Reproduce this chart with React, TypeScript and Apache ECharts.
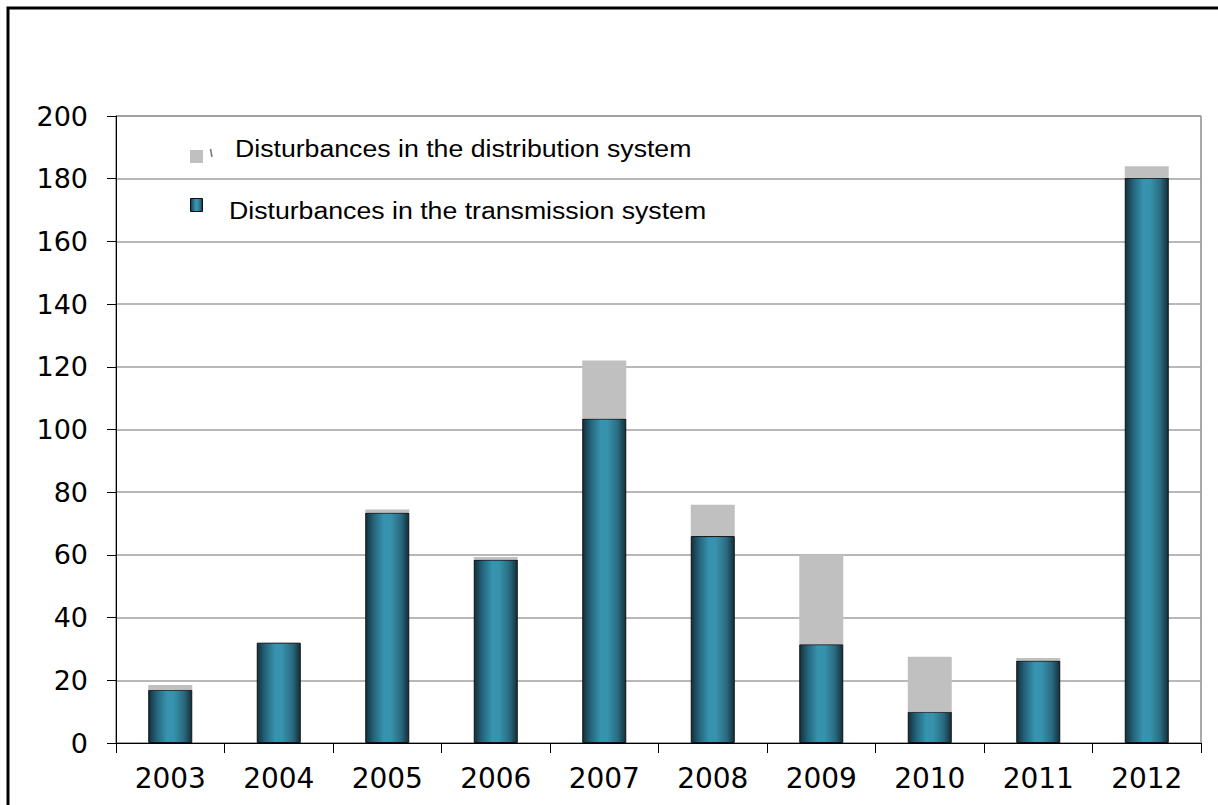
import React, { useEffect, useRef } from "react";
import * as echarts from "echarts";

// Yearly counts of disturbances, split by where they occurred
const years = ["2003", "2004", "2005", "2006", "2007", "2008", "2009", "2010", "2011", "2012"];
const transmission = [17, 32, 73.5, 58.5, 103.5, 66, 31.5, 10, 26.3, 180.3];
const distribution = [1.5, 0, 1, 0.8, 18.5, 10, 28.5, 17.5, 0.8, 3.7];
const seriesNames = [
  "Disturbances in the distribution system",
  "Disturbances in the transmission system",
];
const yMin = 0;
const yMax = 200;
const yStep = 20;

const barGradient = new echarts.graphic.LinearGradient(0, 0, 1, 0, [
  { offset: 0, color: "#14303a" },
  { offset: 0.18, color: "#24627a" },
  { offset: 0.42, color: "#3794ae" },
  { offset: 0.58, color: "#3792ac" },
  { offset: 0.82, color: "#2a6a80" },
  { offset: 1, color: "#14303a" },
]);

export default function App() {
  const ref = useRef<HTMLDivElement>(null);

  useEffect(() => {
    if (!ref.current) return;
    const chart = echarts.init(ref.current, undefined, { renderer: "svg" });
    const axisFont = "'DejaVu Sans', Verdana, sans-serif";
    const legendFont = "'Liberation Sans', Arial, sans-serif";
    chart.setOption({
      animation: false,
      backgroundColor: "#ffffff",
      grid: {
        left: 116,
        top: 116,
        right: 17,
        bottom: 62,
        show: true,
        borderColor: "#555555",
        borderWidth: 1,
      },
      xAxis: {
        type: "category",
        data: years,
        boundaryGap: true,
        axisLine: { show: true, lineStyle: { color: "#000000", width: 1 } },
        axisTick: { show: true, alignWithLabel: false, length: 10, lineStyle: { color: "#000000" } },
        axisLabel: { color: "#000000", fontFamily: axisFont, fontSize: 28, margin: 21 },
      },
      yAxis: {
        type: "value",
        min: yMin,
        max: yMax,
        interval: yStep,
        axisLine: { show: true, lineStyle: { color: "#000000", width: 1 } },
        axisTick: { show: true, length: 9, lineStyle: { color: "#000000" } },
        axisLabel: { color: "#000000", fontFamily: axisFont, fontSize: 27, margin: 28 },
        splitLine: { show: true, lineStyle: { color: "#a0a0a0", width: 1.5 } },
      },
      series: [
        {
          name: seriesNames[1],
          type: "bar",
          stack: "total",
          data: transmission,
          barWidth: 44,
          itemStyle: { color: barGradient, borderColor: "#111111", borderWidth: 1 },
        },
        {
          name: seriesNames[0],
          type: "bar",
          stack: "total",
          data: distribution,
          barWidth: 44,
          itemStyle: { color: "#c0c0c0" },
        },
      ],
      graphic: [
        // outer frame
        {
          type: "rect",
          shape: { x: 8, y: 8, width: 1400, height: 1000 },
          style: { fill: "none", stroke: "#000000", lineWidth: 3 },
          silent: true,
        },
        // legend: distribution
        {
          type: "rect",
          shape: { x: 190, y: 150, width: 13, height: 13 },
          style: { fill: "#c0c0c0" },
        },
        {
          type: "line",
          shape: { x1: 210.5, y1: 149, x2: 212, y2: 157 },
          style: { stroke: "#777777", lineWidth: 1.5 },
        },
        {
          type: "text",
          x: 235,
          y: 149,
          scaleX: 1.16,
          style: {
            text: seriesNames[0],
            fontFamily: legendFont,
            fontSize: 23,
            fill: "#000000",
            verticalAlign: "middle",
          },
        },
        // legend: transmission
        {
          type: "rect",
          shape: { x: 190.5, y: 198.5, width: 12, height: 13 },
          style: { fill: barGradient, stroke: "#111111", lineWidth: 1 },
        },
        {
          type: "text",
          x: 229,
          y: 211,
          scaleX: 1.16,
          style: {
            text: seriesNames[1],
            fontFamily: legendFont,
            fontSize: 23,
            fill: "#000000",
            verticalAlign: "middle",
          },
        },
      ],
    });
    return () => chart.dispose();
  }, []);

  return (
    <div style={{ position: "absolute", left: 0, top: 0, width: 1218, height: 805, overflow: "hidden" }}>
      <div ref={ref} style={{ width: 1218, height: 805 }} />
    </div>
  );
}
